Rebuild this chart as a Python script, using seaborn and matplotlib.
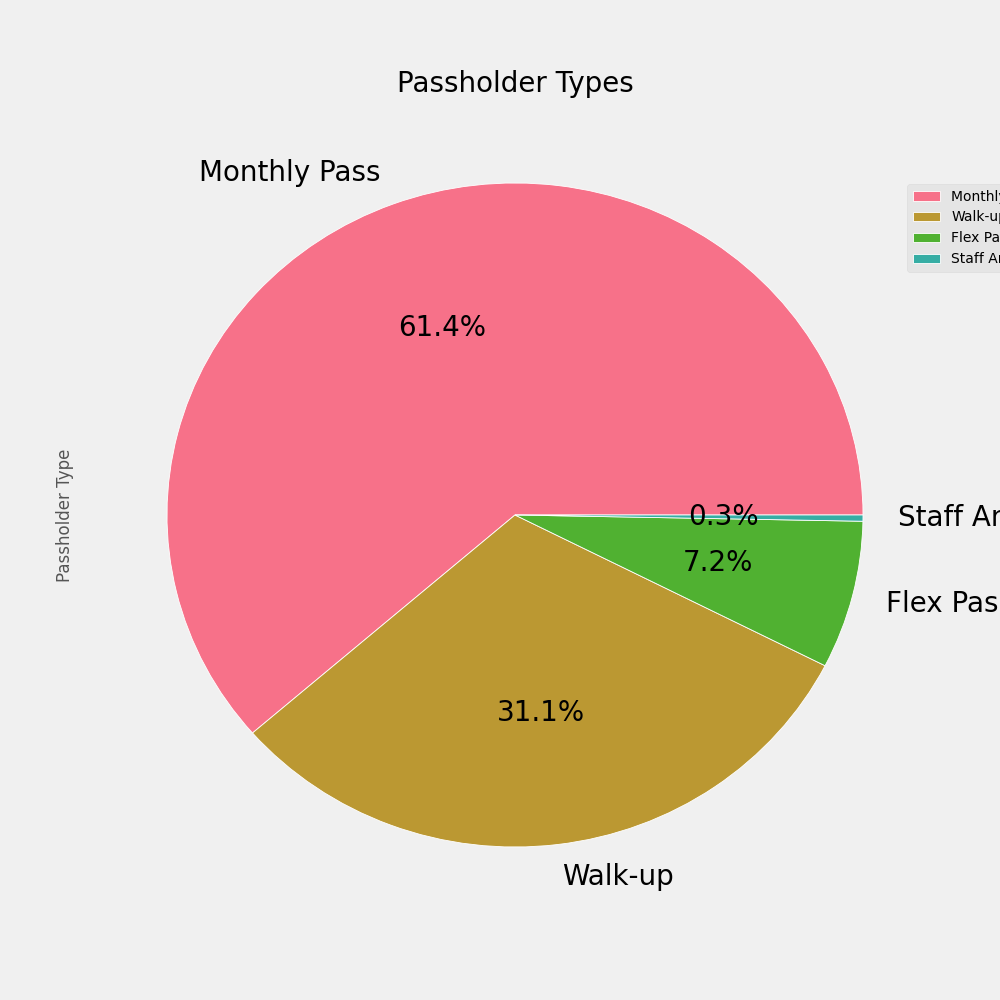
import matplotlib
matplotlib.use("Agg")
import matplotlib.pyplot as plt
import seaborn as sns
import pandas as pd

# passholder share (percent of trips)
pass_types = ["Monthly Pass", "Walk-up", "Flex Pass", "Staff Annual"]
pass_share = [61.4, 31.1, 7.2, 0.3]

plt.style.use("fivethirtyeight")
colors = sns.color_palette("husl", 6)[:len(pass_types)]

df = pd.DataFrame({"Passholder Type": pass_share}, index=pass_types)

fig = plt.figure(figsize=(10, 10), dpi=100)
fig.subplots_adjust(left=0.08, right=0.95, bottom=0.07, top=0.9)
ax = fig.add_subplot(1, 1, 1)
wedges, texts, autotexts = ax.pie(
    df["Passholder Type"], labels=df.index, colors=colors,
    autopct="%1.1f%%", textprops={"fontsize": 20},
    wedgeprops={"edgecolor": "white", "linewidth": 0.6}
)
ax.set_aspect("auto")
ax.set_title("Passholder Types", fontsize=20)
ax.set_ylabel("Passholder Type", fontsize=12, color="#555555")

fig.legend(
    wedges, pass_types, loc="upper left", bbox_to_anchor=(0.9, 0.823),
    fontsize=10, facecolor="#e5e5e5", edgecolor="#dddddd", framealpha=1
)

fig.savefig("out.png", dpi=100, facecolor="#f0f0f0")
